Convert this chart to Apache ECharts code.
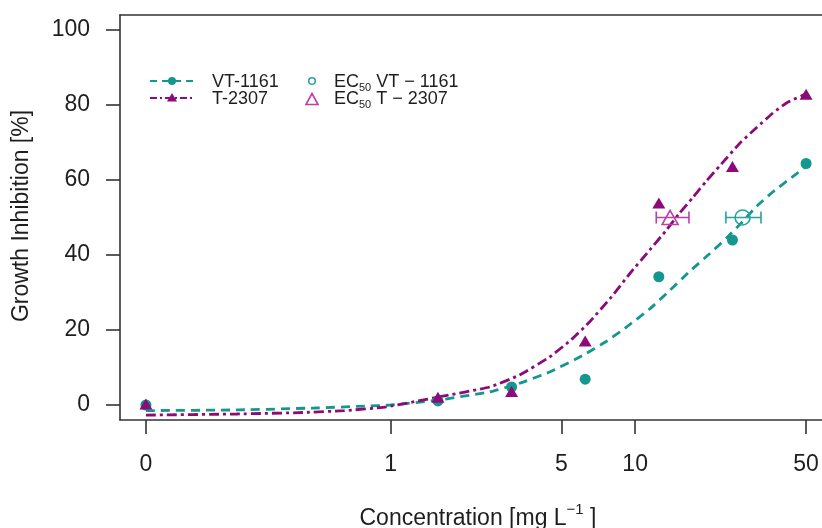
<!DOCTYPE html>
<html>
<head>
<meta charset="utf-8">
<title>Growth inhibition dose-response</title>
<script src="https://cdn.jsdelivr.net/npm/echarts@6/dist/echarts.min.js"></script>
<style>
  html, body { margin: 0; padding: 0; background: #fff; }
  #chart { width: 822px; height: 528px; }
</style>
</head>
<body>
<div id="chart"></div>
<script>
// Observed responses (growth inhibition, %) at each tested concentration (mg/L)
const doses = [0, 1.5625, 3.125, 6.25, 12.5, 25, 50];
const vtResp = [0, 1.1, 4.8, 6.9, 34.2, 44.0, 64.4];
const tResp = [0.3, 2.1, 3.6, 17.1, 53.9, 63.6, 82.9];

// Fitted dose-response curves
const vtCurveConc = [0.1, 0.241, 0.489, 0.783, 1.0, 1.56, 2.54, 3.37, 4.47, 6.10, 7.64, 9.23, 11.46, 13.84, 16.7, 20.2, 23.7, 27.5, 31.4, 36.5, 44.1, 50];
const vtCurveResp = [-1.5, -1.3, -0.8, -0.3, 0.0, 1.3, 3.5, 5.8, 8.8, 13.2, 17.0, 20.8, 25.6, 30.5, 35.6, 40.4, 44.6, 48.9, 53.0, 56.8, 60.9, 63.6];
const tCurveConc = [0.1, 0.235, 0.441, 0.648, 0.963, 1.56, 2.54, 3.37, 4.47, 5.50, 6.52, 8.02, 9.50, 11.46, 13.45, 15.2, 17.2, 19.6, 22.2, 26.8, 31.4, 36.5, 41.7, 50];
const tCurveResp = [-2.7, -2.4, -2.0, -1.5, -0.5, 2.1, 4.8, 8.0, 12.8, 17.5, 22.2, 28.9, 35.0, 41.3, 46.7, 51.2, 55.3, 59.8, 63.8, 69.8, 74.0, 77.8, 80.6, 83.0];

// EC50 estimates with confidence limits: [VT-1161, T-2307]
const ec50Conc = [27.5, 13.9];
const ec50Low = [23.5, 12.2];
const ec50High = [32.7, 16.6];
const ec50Resp = [50, 50];

// Axis ticks
const xTickConc = [0, 1, 5, 10, 50];
const xTickLabels = ['0', '1', '5', '10', '50'];
const yTicks = [0, 20, 40, 60, 80, 100];

const TEAL = '#14978f';
const MAGENTA = '#8c0b78';
const TEAL_EC = '#26a39c';
const MAGENTA_EC = '#bb3fa6';
const INK = '#1e1e1e';
const FONT = '"Liberation Sans", Arial, sans-serif';

// The control (0 mg/L) is placed at 0.1 on the log10 concentration axis
const ZERO_AT = 0.1;
const xPos = c => Math.log10(c === 0 ? ZERO_AT : c);

const pairs = (xs, ys) => xs.map((x, i) => [xPos(x), ys[i]]);

const chart = echarts.init(document.getElementById('chart'), null, { renderer: 'canvas' });

const axisLineStyle = { color: '#333', width: 1.6 };

const option = {
  backgroundColor: '#fff',
  animation: false,
  grid: { left: 120, top: 15, right: 0, bottom: 108, containLabel: false, outerBoundsMode: 'none' },
  xAxis: [
    {
      type: 'value',
      min: -1.106,
      max: 1.764,
      position: 'bottom',
      splitLine: { show: false },
      axisLine: { show: true, onZero: false, lineStyle: axisLineStyle },
      axisTick: {
        show: true, inside: false, length: 14, lineStyle: axisLineStyle,
        customValues: xTickConc.map(xPos)
      },
      axisLabel: {
        show: true, margin: 33, fontSize: 23, fontFamily: FONT, color: INK,
        customValues: xTickConc.map(xPos),
        formatter: v => {
          const i = xTickConc.findIndex(c => Math.abs(xPos(c) - v) < 1e-6);
          return i >= 0 ? xTickLabels[i] : '';
        }
      }
    },
    {
      // top side of the plot frame
      type: 'value',
      min: -1.106,
      max: 1.764,
      position: 'top',
      splitLine: { show: false },
      axisLine: { show: true, onZero: false, lineStyle: axisLineStyle },
      axisTick: { show: false },
      axisLabel: { show: false }
    }
  ],
  yAxis: {
    type: 'value',
    min: -4,
    max: 104,
    position: 'left',
    splitLine: { show: false },
    axisLine: { show: true, onZero: false, lineStyle: axisLineStyle },
    axisTick: {
      show: true, inside: false, length: 14, lineStyle: axisLineStyle,
      customValues: yTicks
    },
    axisLabel: {
      show: true, margin: 30, fontSize: 23, fontFamily: FONT, color: INK,
      customValues: yTicks,
      formatter: v => String(v)
    }
  },
  series: [
    {
      name: 'VT-1161 fit',
      type: 'line',
      data: pairs(vtCurveConc, vtCurveResp),
      smooth: 0.15,
      showSymbol: false,
      lineStyle: { color: TEAL, width: 2.8, type: [9, 6] },
      z: 2
    },
    {
      name: 'T-2307 fit',
      type: 'line',
      data: pairs(tCurveConc, tCurveResp),
      smooth: 0.15,
      showSymbol: false,
      lineStyle: { color: MAGENTA, width: 2.8, type: [10, 4, 3, 4] },
      z: 2
    },
    {
      name: 'VT-1161',
      type: 'scatter',
      data: pairs(doses, vtResp),
      symbol: 'circle',
      symbolSize: 11,
      itemStyle: { color: TEAL, opacity: 1 },
      z: 3
    },
    {
      name: 'T-2307',
      type: 'scatter',
      data: pairs(doses, tResp),
      symbol: 'triangle',
      symbolSize: [13, 11],
      itemStyle: { color: MAGENTA, opacity: 1 },
      z: 3
    },
    {
      name: 'EC50 interval',
      type: 'custom',
      data: ec50Conc.map((c, i) => [xPos(c), ec50Resp[i], xPos(ec50Low[i]), xPos(ec50High[i]), i]),
      encode: { x: [0, 2, 3], y: 1 },
      renderItem: (params, api) => {
        const y = api.value(1);
        const l = api.coord([api.value(2), y]);
        const r = api.coord([api.value(3), y]);
        const col = api.value(4) === 0 ? TEAL_EC : MAGENTA_EC;
        const cap = 6;
        const style = { stroke: col, lineWidth: 1.6 };
        return {
          type: 'group',
          children: [
            { type: 'line', shape: { x1: l[0], y1: l[1], x2: r[0], y2: r[1] }, style },
            { type: 'line', shape: { x1: l[0], y1: l[1] - cap, x2: l[0], y2: l[1] + cap }, style },
            { type: 'line', shape: { x1: r[0], y1: r[1] - cap, x2: r[0], y2: r[1] + cap }, style }
          ]
        };
      },
      z: 4
    },
    {
      name: 'EC50 VT-1161',
      type: 'scatter',
      data: [[xPos(ec50Conc[0]), ec50Resp[0]]],
      symbol: 'circle',
      symbolSize: 15,
      itemStyle: { color: 'rgba(0,0,0,0)', borderColor: TEAL_EC, borderWidth: 1.6, opacity: 1 },
      z: 5
    },
    {
      name: 'EC50 T-2307',
      type: 'scatter',
      data: [[xPos(ec50Conc[1]), ec50Resp[1]]],
      symbol: 'triangle',
      symbolSize: [16, 14],
      itemStyle: { color: 'rgba(0,0,0,0)', borderColor: MAGENTA_EC, borderWidth: 1.6, opacity: 1 },
      z: 5
    }
  ],
  graphic: [
    // axis titles
    {
      type: 'text',
      x: 478, y: 516,
      style: {
        text: '{a|Concentration [mg L}{s|−1}{a| ]}',
        align: 'center', verticalAlign: 'middle',
        fill: INK,
        rich: {
          a: { fontSize: 23, fontFamily: FONT, fill: INK, lineHeight: 28, verticalAlign: 'bottom' },
          s: { fontSize: 15, fontFamily: FONT, fill: INK, lineHeight: 28, verticalAlign: 'top' }
        }
      }
    },
    {
      type: 'text',
      x: 22, y: 216,
      rotation: Math.PI / 2,
      style: {
        text: 'Growth Inhibition [%]',
        align: 'center', verticalAlign: 'middle',
        fontSize: 23, fontFamily: FONT, fill: INK
      }
    },
    // legend
    {
      type: 'line',
      shape: { x1: 150, y1: 81, x2: 194, y2: 81 },
      style: { stroke: TEAL, lineWidth: 2.2, lineDash: [7, 5] }
    },
    { type: 'circle', shape: { cx: 172, cy: 81, r: 4 }, style: { fill: TEAL } },
    {
      type: 'line',
      shape: { x1: 150, y1: 98, x2: 194, y2: 98 },
      style: { stroke: MAGENTA, lineWidth: 2.2, lineDash: [7, 3, 2, 3] }
    },
    { type: 'polygon', shape: { points: [[172, 93], [177, 101.5], [167, 101.5]] }, style: { fill: MAGENTA } },
    {
      type: 'text', x: 212, y: 82,
      style: { text: 'VT-1161', fontSize: 18, fontFamily: FONT, fill: INK, verticalAlign: 'middle' }
    },
    {
      type: 'text', x: 212, y: 99,
      style: { text: 'T-2307', fontSize: 18, fontFamily: FONT, fill: INK, verticalAlign: 'middle' }
    },
    { type: 'circle', shape: { cx: 312, cy: 81, r: 3.3 }, style: { fill: 'none', stroke: TEAL_EC, lineWidth: 1.5 } },
    {
      type: 'polygon',
      shape: { points: [[312, 93.5], [318, 104.5], [306, 104.5]] },
      style: { fill: 'none', stroke: MAGENTA_EC, lineWidth: 1.6 }
    },
    {
      type: 'text', x: 334, y: 82,
      style: {
        text: '{n|EC}{s|50}{n| VT − 1161}',
        verticalAlign: 'middle',
        rich: {
          n: { fontSize: 18, fontFamily: FONT, fill: INK, lineHeight: 22, verticalAlign: 'middle' },
          s: { fontSize: 11, fontFamily: FONT, fill: INK, lineHeight: 22, verticalAlign: 'bottom' }
        }
      }
    },
    {
      type: 'text', x: 334, y: 99,
      style: {
        text: '{n|EC}{s|50}{n| T − 2307}',
        verticalAlign: 'middle',
        rich: {
          n: { fontSize: 18, fontFamily: FONT, fill: INK, lineHeight: 22, verticalAlign: 'middle' },
          s: { fontSize: 11, fontFamily: FONT, fill: INK, lineHeight: 22, verticalAlign: 'bottom' }
        }
      }
    }
  ]
};

chart.setOption(option);
</script>
</body>
</html>
